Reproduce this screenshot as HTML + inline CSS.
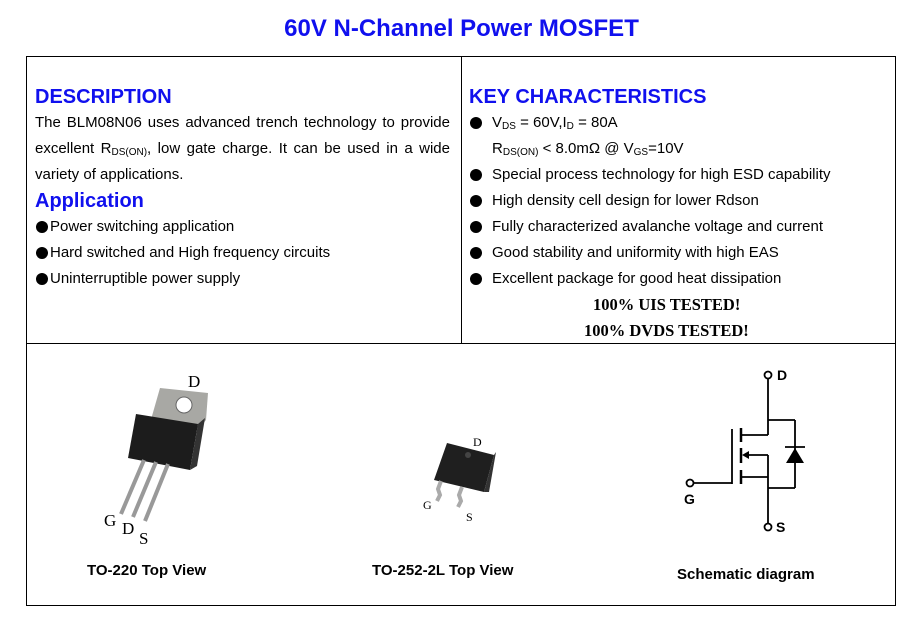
<!DOCTYPE html>
<html><head><meta charset="utf-8"><style>
body{margin:0;width:923px;height:632px;background:#fff;position:relative;font-family:"Liberation Sans",sans-serif;color:#000;overflow:hidden}
.a{position:absolute;white-space:nowrap}
.t{font-size:15px;line-height:26px}
.h{font-size:20px;font-weight:bold;color:#1010ee;line-height:26px}
.j{text-align:justify;text-align-last:justify;white-space:normal}
sub{font-size:10px;vertical-align:-2px}
.b{position:absolute;width:12px;height:12px;border-radius:50%;background:#000}
.s{font-family:"Liberation Serif",serif;font-weight:bold;font-size:16.5px;line-height:26px}
.c{font-size:15px;font-weight:bold}
</style></head><body>
<div class="a" style="left:0;width:923px;text-align:center;top:15px;font-size:24px;font-weight:bold;color:#1010ee">60V N-Channel Power MOSFET</div>
<div class="a" style="left:26px;top:56px;width:868px;height:548px;border:1px solid #000"></div>
<div class="a" style="left:461px;top:56px;width:1px;height:287px;background:#000"></div>
<div class="a" style="left:26px;top:343px;width:869px;height:1px;background:#000"></div>

<div class="a h" style="left:35px;top:84px">DESCRIPTION</div>
<div class="a t j" style="left:35px;top:110px;width:415px">The BLM08N06 uses advanced trench technology to provide</div>
<div class="a t j" style="left:35px;top:136px;width:415px">excellent R<sub>DS(ON)</sub>, low gate charge. It can be used in a wide</div>
<div class="a t" style="left:35px;top:162px">variety of applications.</div>
<div class="a h" style="left:35px;top:188px">Application</div>
<div class="b" style="left:36px;top:221px"></div><div class="a t" style="left:50px;top:214px">Power switching application</div>
<div class="b" style="left:36px;top:247px"></div><div class="a t" style="left:50px;top:240px">Hard switched and High frequency circuits</div>
<div class="b" style="left:36px;top:273px"></div><div class="a t" style="left:50px;top:266px">Uninterruptible power supply</div>

<div class="a h" style="left:469px;top:84px">KEY CHARACTERISTICS</div>
<div class="b" style="left:470px;top:117px"></div><div class="a t" style="left:492px;top:110px">V<sub>DS</sub> = 60V,I<sub>D</sub> = 80A</div>
<div class="a t" style="left:492px;top:136px">R<sub>DS(ON)</sub> &lt; 8.0mΩ @ V<sub>GS</sub>=10V</div>
<div class="b" style="left:470px;top:169px"></div><div class="a t" style="left:492px;top:162px">Special process technology for high ESD capability</div>
<div class="b" style="left:470px;top:195px"></div><div class="a t" style="left:492px;top:188px">High density cell design for lower Rdson</div>
<div class="b" style="left:470px;top:221px"></div><div class="a t" style="left:492px;top:214px">Fully characterized avalanche voltage and current</div>
<div class="b" style="left:470px;top:247px"></div><div class="a t" style="left:492px;top:240px">Good stability and uniformity with high EAS</div>
<div class="b" style="left:470px;top:273px"></div><div class="a t" style="left:492px;top:266px">Excellent package for good heat dissipation</div>
<div class="a s" style="left:593px;top:292px">100% UIS TESTED!</div>
<div class="a s" style="left:584px;top:318px">100% DVDS TESTED!</div>

<svg class="a" style="left:0;top:0" width="923" height="632">
<g>
<polygon points="160,388 208,393 206,420 198,430 150,423" fill="#a8a8a4"/>
<circle cx="184" cy="405" r="8" fill="#fff" stroke="#666"/>
<polygon points="136,414 198,424 190,470 128,458" fill="#1c1c1c"/>
<polygon points="198,424 205,418 197,466 190,470" fill="#333"/>
<line x1="144" y1="460" x2="121" y2="514" stroke="#999" stroke-width="4"/>
<line x1="156" y1="462" x2="133" y2="517" stroke="#999" stroke-width="4"/>
<line x1="168" y1="464" x2="145" y2="521" stroke="#999" stroke-width="4"/>
<text x="188" y="387" font-family="Liberation Serif" font-size="17">D</text>
<text x="104" y="526" font-family="Liberation Serif" font-size="17">G</text>
<text x="122" y="534" font-family="Liberation Serif" font-size="17">D</text>
<text x="139" y="544" font-family="Liberation Serif" font-size="17">S</text>
</g>
<g>
<polygon points="447,443 494,455 484,492 434,480" fill="#1f1f1f"/>
<polygon points="494,455 496,452 489,492 484,492" fill="#333"/>
<circle cx="468" cy="455" r="3" fill="#444"/>
<path d="M441,481 l-3,8 l2,6 l-3,6" stroke="#aaa" stroke-width="4" fill="none"/>
<path d="M462,487 l-3,8 l2,6 l-3,6" stroke="#aaa" stroke-width="4" fill="none"/>
<text x="473" y="446" font-family="Liberation Serif" font-size="12">D</text>
<text x="423" y="509" font-family="Liberation Serif" font-size="12">G</text>
<text x="466" y="521" font-family="Liberation Serif" font-size="12">S</text>
</g>
<g stroke="#000" stroke-width="1.8" fill="none">
<circle cx="768" cy="375" r="3.5" fill="#fff"/>
<circle cx="690" cy="483" r="3.5" fill="#fff"/>
<circle cx="768" cy="527" r="3.5" fill="#fff"/>
<line x1="768" y1="379" x2="768" y2="435"/>
<line x1="768" y1="420" x2="795" y2="420"/>
<line x1="795" y1="420" x2="795" y2="488"/>
<line x1="694" y1="483" x2="732" y2="483"/>
<line x1="732" y1="429" x2="732" y2="484"/>
<line x1="741" y1="428" x2="741" y2="442" stroke-width="2.5"/>
<line x1="741" y1="448" x2="741" y2="463" stroke-width="2.5"/>
<line x1="741" y1="470" x2="741" y2="484" stroke-width="2.5"/>
<line x1="741" y1="435" x2="768" y2="435"/>
<line x1="745" y1="455" x2="768" y2="455"/>
<line x1="768" y1="455" x2="768" y2="523"/>
<line x1="741" y1="477" x2="768" y2="477"/>
<line x1="768" y1="488" x2="795" y2="488"/>
<line x1="785" y1="447" x2="805" y2="447"/>
</g>
<polygon points="795,448 786,463 804,463" fill="#000"/>
<polygon points="742,455 749,451 749,459" fill="#000"/>
<text x="777" y="380" font-size="14" font-weight="bold" font-family="Liberation Sans">D</text>
<text x="684" y="504" font-size="14" font-weight="bold" font-family="Liberation Sans">G</text>
<text x="776" y="532" font-size="14" font-weight="bold" font-family="Liberation Sans">S</text>
</svg>

<div class="a c" style="left:87px;top:562px">TO-220 Top View</div>
<div class="a c" style="left:372px;top:562px">TO-252-2L Top View</div>
<div class="a c" style="left:677px;top:566px">Schematic diagram</div>
</body></html>
